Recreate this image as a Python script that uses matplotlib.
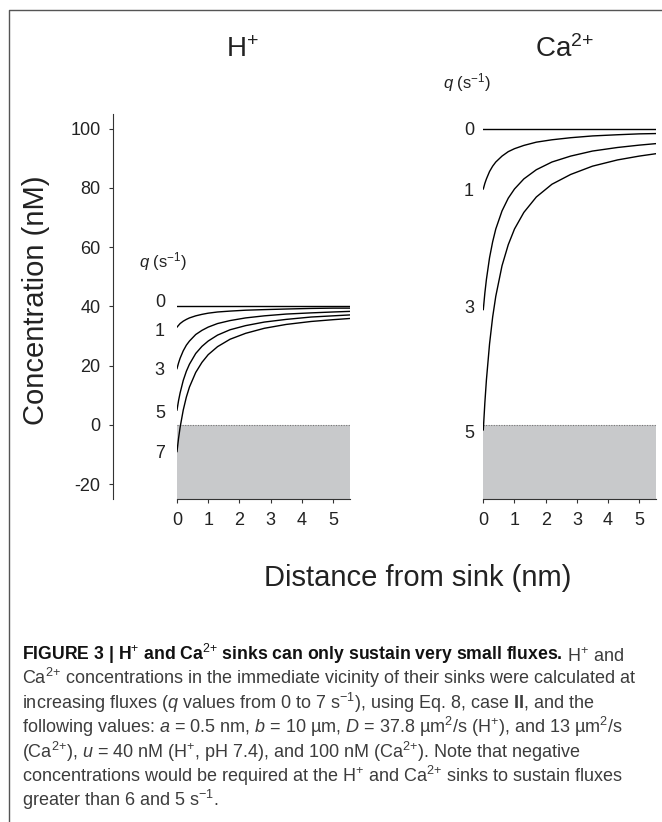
import matplotlib.pyplot as plt

plt.rcParams['font.family'] = ['Liberation Sans', 'DejaVu Sans']
plt.rcParams['mathtext.fontset'] = 'custom'
plt.rcParams['mathtext.rm'] = 'Liberation Sans'
plt.rcParams['mathtext.it'] = 'Liberation Sans:italic'
plt.rcParams['mathtext.bf'] = 'Liberation Sans:bold'
plt.rcParams['axes.unicode_minus'] = False

# ---- data ----
# distance from sink (nm) at which the curves were read
dist = [0, 0.05, 0.1, 0.2, 0.3, 0.4, 0.6, 0.8, 1.0, 1.3, 1.7, 2.2, 2.8, 3.5, 4.3, 5.0, 5.53]
flat_x = [0, 5.53]

# H+ panel (nM), q = 0, 1, 3, 5, 7 s^-1
h_q0 = [40, 40]
h_q1 = [33.0, 33.6, 34.2, 35.0, 35.6, 36.1, 36.8, 37.3, 37.7, 38.1, 38.4, 38.7, 38.9, 39.1, 39.3, 39.4, 39.4]
h_q3 = [19.0, 20.9, 22.5, 25.0, 26.9, 28.3, 30.5, 31.9, 33.0, 34.2, 35.2, 36.1, 36.8, 37.4, 37.8, 38.1, 38.3]
h_q5 = [5.0, 8.2, 10.8, 15.0, 18.1, 20.5, 24.1, 26.5, 28.3, 30.3, 32.1, 33.5, 34.7, 35.6, 36.4, 36.8, 37.1]
h_q7 = [-9.0, -4.5, -0.8, 5.0, 9.4, 12.8, 17.7, 21.1, 23.7, 26.4, 28.9, 30.9, 32.6, 33.9, 34.9, 35.5, 35.9]
h_labels = ['0', '1', '3', '5', '7']

# Ca2+ panel (nM), q = 0, 1, 3, 5 s^-1
ca_q0 = [100, 100]
ca_q1 = [79.6, 81.5, 83.0, 85.5, 87.3, 88.7, 90.7, 92.2, 93.2, 94.3, 95.4, 96.2, 96.9, 97.5, 97.9, 98.2, 98.3]
ca_q3 = [38.9, 44.5, 49.1, 56.4, 61.8, 66.1, 72.2, 76.5, 79.6, 83.0, 86.1, 88.7, 90.7, 92.4, 93.6, 94.4, 94.9]
ca_q5 = [-1.7, 7.5, 15.2, 27.3, 36.4, 43.4, 53.7, 60.8, 66.1, 71.7, 76.9, 81.2, 84.5, 87.3, 89.4, 90.7, 91.5]
ca_labels = ['0', '1', '3', '5']

y_ticks = [-20, 0, 20, 40, 60, 80, 100]
x_ticks = [0, 1, 2, 3, 4, 5]

caption = [
    [(r'FIGURE 3 | H$^{+}$ and Ca$^{2{+}}$ sinks can only sustain very small fluxes.', 'bold'),
     (r'H$^{+}$ and', 'normal')],
    [(r'Ca$^{2{+}}$ concentrations in the immediate vicinity of their sinks were calculated at', 'normal')],
    [(r'increasing fluxes ($q$ values from 0 to 7 s$^{-1}$), using Eq. 8, case $\mathbf{II}$, and the', 'normal')],
    [(r'following values: $a$ = 0.5 nm, $b$ = 10 µm, $D$ = 37.8 µm$^{2}$/s (H$^{+}$), and 13 µm$^{2}$/s', 'normal')],
    [(r'(Ca$^{2{+}}$), $u$ = 40 nM (H$^{+}$, pH 7.4), and 100 nM (Ca$^{2{+}}$). Note that negative', 'normal')],
    [(r'concentrations would be required at the H$^{+}$ and Ca$^{2{+}}$ sinks to sustain fluxes', 'normal')],
    [(r'greater than 6 and 5 s$^{-1}$.', 'normal')],
]

# ---- layout (pixels of a 662x822 canvas) ----
W, H = 662, 822
ylim = (-25, 104.8)
xlim = (0, 5.53)
bot = 1 - 499 / H
hgt = (499 - 114.3) / H
ink = '#222222'
fill_grey = '#c8c9cb'
tick_fs = 13

fig = plt.figure(figsize=(W / 100, H / 100), dpi=100)

over = fig.add_axes([0, 0, 1, 1])
over.set_xlim(0, W)
over.set_ylim(H, 0)
over.axis('off')

# frame round the figure
over.plot([9, 9, W + 5], [H + 5, 10, 10], color='#555555', lw=1.0, clip_on=False)

# shared concentration axis
ax_y = fig.add_axes([113 / W, bot, 30 / W, hgt])
ax_y.set_ylim(*ylim)
ax_y.set_yticks(y_ticks)
ax_y.set_xticks([])
for s in ['top', 'right', 'bottom']:
    ax_y.spines[s].set_visible(False)
ax_y.spines['left'].set_linewidth(0.8)
ax_y.spines['left'].set_color('#333333')
ax_y.patch.set_visible(False)
ax_y.tick_params(axis='y', direction='out', length=3, width=0.8, pad=6,
                 labelsize=tick_fs, colors='#333333', labelcolor=ink)


def panel(left, curves, flat, labels, label_x, label_y, head_x, head_y):
    ax = fig.add_axes([left / W, bot, 172.5 / W, hgt])
    ax.set_xlim(*xlim)
    ax.set_ylim(*ylim)
    ax.patch.set_visible(False)
    for s in ['top', 'right', 'left']:
        ax.spines[s].set_visible(False)
    ax.spines['bottom'].set_linewidth(0.8)
    ax.spines['bottom'].set_color('#333333')
    ax.set_yticks([])
    ax.set_xticks(x_ticks)
    ax.tick_params(axis='x', direction='out', length=3, width=0.8, pad=6.5,
                   labelsize=tick_fs, colors='#333333', labelcolor=ink)

    ax.axhspan(ylim[0], 0, color=fill_grey, lw=0, zorder=1)
    ax.axhline(0, color='#777777', lw=0.8, ls=(0, (1, 1.3)), zorder=2)

    ax.plot(flat_x, flat, color='black', lw=1.0, zorder=3)
    for c in curves:
        ax.plot(dist, c, color='black', lw=1.0, zorder=3)

    for lab, yy in zip(labels, label_y):
        ax.text(label_x, yy, lab, ha='center', va='center', fontsize=tick_fs,
                color=ink, clip_on=False)
    ax.text(head_x, head_y, r'$q$ (s$^{-1}$)', ha='left', va='baseline',
            fontsize=12, color=ink, clip_on=False)
    return ax


panel(177, [h_q1, h_q3, h_q5, h_q7], h_q0, h_labels, -0.55,
      [41.2, 31.4, 18.2, 3.9, -9.8], -1.22, 53.0)
panel(483.3, [ca_q1, ca_q3, ca_q5], ca_q0, ca_labels, -0.46,
      [99.5, 78.9, 39.3, -2.9], -1.29, 113.4)

# titles and axis labels
over.text(242, 57, r'H$^{+}$', ha='center', va='baseline', fontsize=20, color=ink)
over.text(565, 57, r'Ca$^{2{+}}$', ha='center', va='baseline', fontsize=20, color=ink)
over.text(36, 300, 'Concentration (nM)', rotation=90, ha='center', va='center',
          fontsize=21, color=ink)
over.text(418, 578, 'Distance from sink (nm)', ha='center', va='center',
          fontsize=21, color=ink)

# caption, one text per run of the same weight
cap_x, cap_y0, cap_dy = 22, 660, 24.4
cap_fs = {'bold': 12.7, 'normal': 13}
for i, line in enumerate(caption):
    prev = None
    for txt, weight in line:
        col = '#111111' if weight == 'bold' else '#3c3c3c'
        if prev is None:
            prev = over.text(cap_x, cap_y0 + i * cap_dy, txt, ha='left', va='baseline',
                             fontsize=cap_fs[weight], fontweight=weight, color=col)
        else:
            prev = over.annotate(txt, xy=(1, 0), xycoords=prev, xytext=(4, 0),
                                 textcoords='offset pixels', ha='left', va='bottom',
                                 fontsize=cap_fs[weight], fontweight=weight, color=col)

fig.savefig('out.png', dpi=100)
